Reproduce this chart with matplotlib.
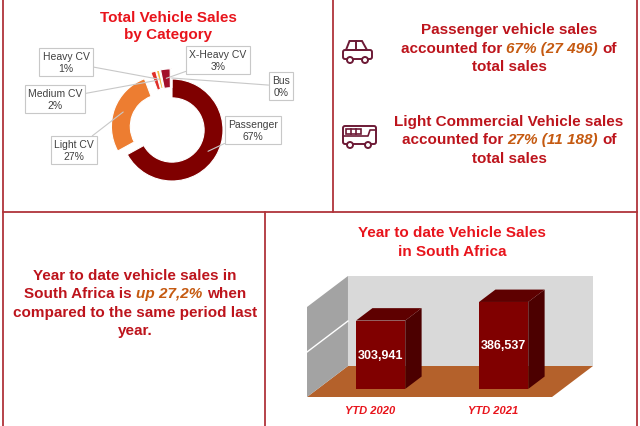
import matplotlib
matplotlib.use('Agg')
import matplotlib.pyplot as plt
import numpy as np
from matplotlib.patches import Polygon, Circle, FancyBboxPatch, Rectangle

plt.rcParams['font.family'] = ['Liberation Sans', 'DejaVu Sans']

# ---- data ----
categories = ['Passenger', 'Light CV', 'Medium CV', 'Heavy CV', 'X-Heavy CV', 'Bus']
units = [27496, 11188, 640, 380, 1240, 96]
pie_colors = ['#7f0000', '#ed7d31', '#e0302a', '#f4b942', '#a3102a', '#c00000']
explode = [0, 0.2, 0.2, 0.2, 0.2, 0.2]

ytd_labels = ['YTD 2020', 'YTD 2021']
ytd_sales = [303941, 386537]
y_max = 400000
y_grid = 200000

RED = '#bd141c'
TITLE_RED = '#e8141c'
ORANGE = '#c55a11'
LINE = '#b0343a'
ICON = '#6d1a36'

fig = plt.figure(figsize=(6.4, 4.27), dpi=100)
bg = fig.add_axes([0, 0, 1, 1])
bg.set_xlim(0, 640); bg.set_ylim(427, 0); bg.axis('off')

# panel borders
for xs, ys in [([3, 3], [0, 427]), ([637, 637], [0, 427]), ([333, 333], [0, 213]),
               ([3, 637], [213, 213]), ([265, 265], [213, 427])]:
    bg.plot(xs, ys, color=LINE, lw=1.3)

renderer = fig.canvas.get_renderer()


def rich_line(xc, y, parts, size=11):
    # parts: (text, colour, style), joined with one space
    arts = [bg.text(0, y, s, color=c, style=st, weight='bold', size=size,
                    ha='left', va='baseline') for s, c, st in parts]
    a = bg.text(0, 0, 'a a', weight='bold', size=size)
    b = bg.text(0, 0, 'aa', weight='bold', size=size)
    gap = a.get_window_extent(renderer).width - b.get_window_extent(renderer).width
    a.remove(); b.remove()
    widths = [t.get_window_extent(renderer).width for t in arts]
    x = xc - (sum(widths) + gap*(len(arts)-1))/2
    for t, w in zip(arts, widths):
        t.set_x(x); x += w + gap


# ---- top left: donut ----
rich_line(168, 22, [('Total Vehicle Sales', TITLE_RED, 'normal')])
rich_line(168, 39, [('by Category', TITLE_RED, 'normal')])

pa = fig.add_axes([102/640, (427-201)/427, 140/640, 140/427])
wedges, _ = pa.pie(units, colors=pie_colors, startangle=90, counterclock=False,
                   explode=explode, radius=1,
                   wedgeprops=dict(width=0.37, edgecolor='white', linewidth=0.8))
pa.set_xlim(-70/51, 70/51); pa.set_ylim(-70/51, 70/51); pa.axis('off')

total = sum(units)
label_pos = [(253, 131), (74, 151), (55, 100), (66, 63), (218, 61), (281, 87)]
for w, name, v, pos in zip(wedges, categories, units, label_pos):
    th = np.deg2rad((w.theta1 + w.theta2)/2)
    cx, cy = w.center
    tgt = (cx + 0.82*np.cos(th), cy + 0.82*np.sin(th))
    pa.annotate(f'{name}\n{round(v/total*100)}%', xy=tgt, xycoords='data',
                xytext=pos, textcoords=bg.transData, ha='center', va='center',
                fontsize=7.5, color='#404040', linespacing=1.15,
                bbox=dict(boxstyle='square,pad=0.3', fc='white', ec='#c8c8c8', lw=0.8),
                arrowprops=dict(arrowstyle='-', color='#c8c8c8', lw=0.8,
                                shrinkA=0, shrinkB=0),
                annotation_clip=False)

# ---- top right: text + icons ----
rich_line(509, 34, [('Passenger vehicle sales', RED, 'normal')])
rich_line(509, 53, [('accounted for', RED, 'normal'),
                    ('67% (27 496)', ORANGE, 'italic'), ('of', RED, 'normal')])
rich_line(509, 71, [('total sales', RED, 'normal')])
rich_line(509, 126, [('Light Commercial Vehicle sales', RED, 'normal')])
rich_line(509, 144, [('accounted for', RED, 'normal'),
                     ('27% (11 188)', ORANGE, 'italic'), ('of', RED, 'normal')])
rich_line(509, 163, [('total sales', RED, 'normal')])

# car icon
bg.add_patch(Polygon([(346, 51), (349.5, 42), (362, 42), (367, 51)], closed=True,
                     fill=False, ec=ICON, lw=1.4))
bg.plot([355.5, 355.5], [42, 51], color=ICON, lw=1.4)
bg.add_patch(FancyBboxPatch((343, 51), 29, 9, boxstyle='round,pad=0,rounding_size=2',
                            fill=False, ec=ICON, lw=1.4))
for wx in (350, 365):
    bg.add_patch(Circle((wx, 61), 3, fc='white', ec=ICON, lw=1.4, zorder=3))
# bus icon
bg.add_patch(FancyBboxPatch((343, 127), 33, 18, boxstyle='round,pad=0,rounding_size=2',
                            fill=False, ec=ICON, lw=1.4))
bg.add_patch(Rectangle((346, 129.5), 15, 5, fill=False, ec=ICON, lw=1.2))
for lx in (351, 356):
    bg.plot([lx, lx], [129.5, 134.5], color=ICON, lw=1.2)
bg.plot([343, 368, 370, 376], [137, 137, 131, 131], color=ICON, lw=1.2)
for wx in (350, 368):
    bg.add_patch(Circle((wx, 146), 3, fc='white', ec=ICON, lw=1.4, zorder=3))

# ---- bottom left: text ----
rich_line(135, 280, [('Year to date vehicle sales in', RED, 'normal')])
rich_line(135, 298.5, [('South Africa is', RED, 'normal'),
                       ('up 27,2%', ORANGE, 'italic'), ('when', RED, 'normal')])
rich_line(135, 317, [('compared to the same period last', RED, 'normal')])
rich_line(135, 335.5, [('year.', RED, 'normal')])

# ---- bottom right: pseudo 3D bars ----
rich_line(452, 237, [('Year to date Vehicle Sales', TITLE_RED, 'normal')])
rich_line(452, 256, [('in South Africa', TITLE_RED, 'normal')])

bx = fig.add_axes([300/640, 27/427, 300/640, 130/427])
bx.set_xlim(-0.569, 1.870)
bx.set_ylim(-8889, 568889)
bx.axis('off')

Dx, Dy = 0.333, 137778      # depth vector
xl, xr = -0.512, 1.48
bx.add_patch(Polygon([(xl, 0), (xr, 0), (xr+Dx, Dy), (xl+Dx, Dy)], fc='#b4612b', ec='none'))
bx.add_patch(Polygon([(xl, 0), (xl, y_max), (xl+Dx, y_max+Dy), (xl+Dx, Dy)],
                     fc='#a3a3a3', ec='none'))
bx.add_patch(Polygon([(xl+Dx, Dy), (xl+Dx, y_max+Dy), (xr+Dx, y_max+Dy), (xr+Dx, Dy)],
                     fc='#d9d9d9', ec='none'))
bx.plot([xl, xl+Dx], [y_grid, y_grid+Dy], color='white', lw=1)

f0, bd, hw = 0.26, 0.4, 0.2
for i, (lab, v) in enumerate(zip(ytd_labels, ytd_sales)):
    x0, x1 = i - hw + f0*Dx, i + hw + f0*Dx
    yb = f0*Dy
    bx.add_patch(Polygon([(x1, yb), (x1, v+yb), (x1+bd*Dx, v+yb+bd*Dy), (x1+bd*Dx, yb+bd*Dy)],
                         fc='#4c0000', ec='none'))
    bx.add_patch(Polygon([(x0, v+yb), (x1, v+yb), (x1+bd*Dx, v+yb+bd*Dy), (x0+bd*Dx, v+yb+bd*Dy)],
                         fc='#5e0000', ec='none'))
    bx.add_patch(Rectangle((x0, yb), x1-x0, v, fc='#800000', ec='none'))
    bx.text((x0+x1)/2, yb + v/2, f'{v:,}', color='white', weight='bold', size=9,
            ha='center', va='center')
    bx.text(i, -70000, lab, color=TITLE_RED, weight='bold', style='italic', size=8,
            ha='center', va='baseline', clip_on=False)

fig.savefig('out.png', dpi=100)
